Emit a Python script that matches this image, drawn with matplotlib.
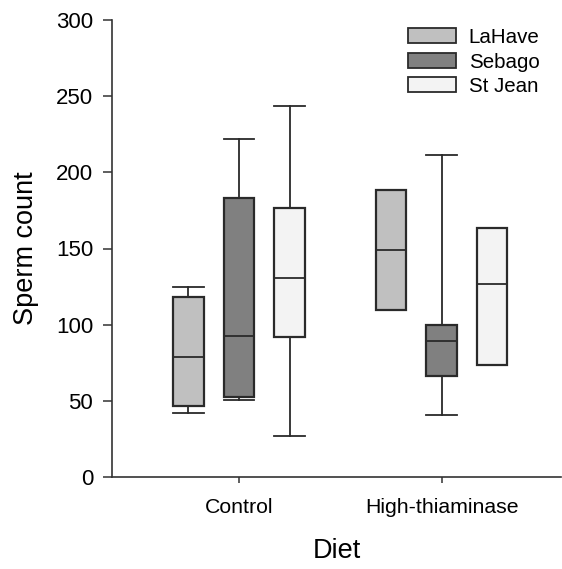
import matplotlib
matplotlib.use("Agg")
import matplotlib.pyplot as plt
from matplotlib.patches import Patch

plt.rcParams['font.family'] = ['Liberation Sans', 'DejaVu Sans']

diets = ["Control", "High-thiaminase"]
strains = ["LaHave", "Sebago", "St Jean"]
colors = ["#c0c0c0", "#808080", "#f3f3f3"]

# box stats per strain: [Control, High-thiaminase]
whis_low = {"LaHave": [41.8, 109.4], "Sebago": [50.5, 40.5], "St Jean": [26.7, 73.7]}
q1 = {"LaHave": [46.4, 109.4], "Sebago": [52.3, 66.5], "St Jean": [91.7, 73.7]}
median = {"LaHave": [78.6, 149.0], "Sebago": [92.3, 89.3], "St Jean": [130.6, 126.7]}
q3 = {"LaHave": [118.0, 188.2], "Sebago": [183.4, 99.8], "St Jean": [176.4, 163.7]}
whis_high = {"LaHave": [124.7, 188.2], "Sebago": [221.9, 211.2], "St Jean": [243.5, 163.7]}

fig = plt.figure(figsize=(5.62, 5.69), dpi=100)
ax = fig.add_axes([112/562, 92/569, 449/562, 457/569])

offset = 0.25
width = 0.15
edge = "#2a2a2a"
for si, s in enumerate(strains):
    stats = []
    pos = []
    for di, d in enumerate(diets):
        stats.append(dict(med=median[s][di], q1=q1[s][di], q3=q3[s][di],
                          whislo=whis_low[s][di], whishi=whis_high[s][di],
                          fliers=[], label=d))
        pos.append(di + 1 + (si - 1) * offset)
    ax.bxp(stats, positions=pos, widths=width, capwidths=width,
           patch_artist=True, showfliers=False, manage_ticks=False,
           boxprops=dict(facecolor=colors[si], edgecolor=edge, linewidth=1.6),
           medianprops=dict(color=edge, linewidth=1.3),
           whiskerprops=dict(color=edge, linewidth=1.3),
           capprops=dict(color=edge, linewidth=1.3))

ax.set_xlim(0.3735, 2.589)
ax.set_ylim(0, 300)
ax.set_yticks([0, 50, 100, 150, 200, 250, 300])
ax.set_xticks([1, 2])
ax.set_xticklabels(diets)
for sp in ["top", "right"]:
    ax.spines[sp].set_visible(False)
for sp in ["left", "bottom"]:
    ax.spines[sp].set_linewidth(1.2)
    ax.spines[sp].set_color("#333333")
ax.tick_params(axis="y", length=6.5, width=1.1, labelsize=16, pad=7, color="#333333")
ax.tick_params(axis="x", length=4.5, width=1.1, labelsize=15.3, pad=10.5, color="#333333")
ax.set_ylabel("Sperm count", fontsize=19.5, labelpad=12)
ax.set_xlabel("Diet", fontsize=19.5, labelpad=15)

handles = [Patch(facecolor=c, edgecolor=edge, linewidth=1.3) for c in colors]
ax.legend(handles, strains, loc="upper left", bbox_to_anchor=(408/562, 1 - 28/569),
          bbox_transform=fig.transFigure, frameon=False, fontsize=14.8,
          handlelength=2.35, handleheight=0.75, handletextpad=0.6,
          labelspacing=0.27, borderpad=0, borderaxespad=0)

fig.savefig("out.png", dpi=100)
